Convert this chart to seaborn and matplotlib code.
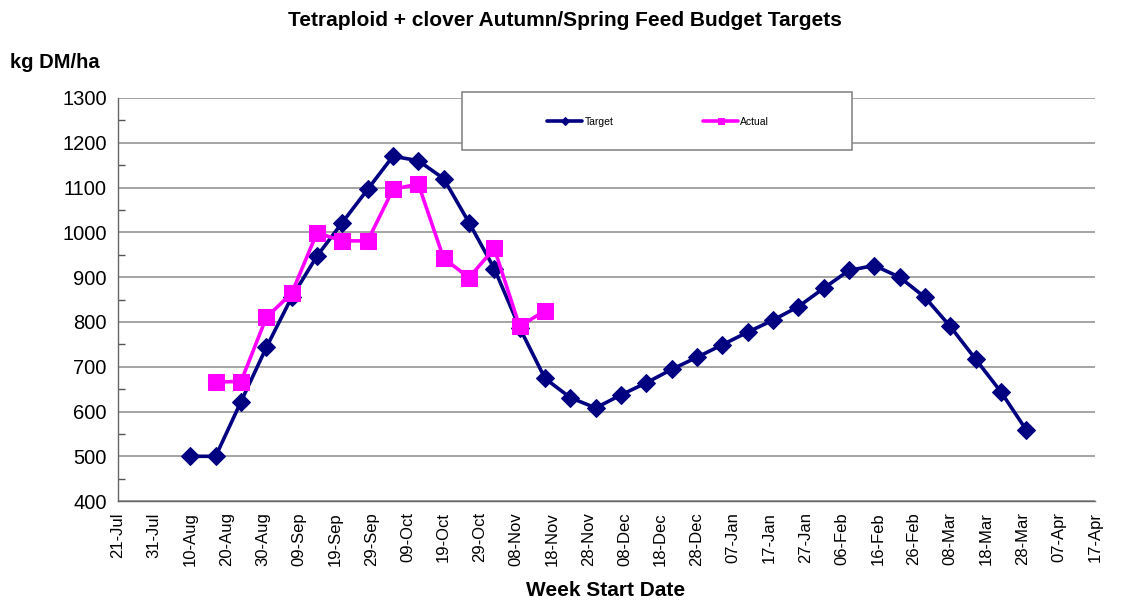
import matplotlib
matplotlib.use("Agg")
import matplotlib.pyplot as plt
import matplotlib.dates as mdates
from matplotlib.patches import Rectangle
from matplotlib.ticker import MultipleLocator
import seaborn as sns
import pandas as pd

# Week start dates (weekly, Aug 2010 - Mar 2011)
target_weeks = [
    "2010-08-10", "2010-08-17", "2010-08-24", "2010-08-31", "2010-09-07",
    "2010-09-14", "2010-09-21", "2010-09-28", "2010-10-05", "2010-10-12",
    "2010-10-19", "2010-10-26", "2010-11-02", "2010-11-09", "2010-11-16",
    "2010-11-23", "2010-11-30", "2010-12-07", "2010-12-14", "2010-12-21",
    "2010-12-28", "2011-01-04", "2011-01-11", "2011-01-18", "2011-01-25",
    "2011-02-01", "2011-02-08", "2011-02-15", "2011-02-22", "2011-03-01",
    "2011-03-08", "2011-03-15", "2011-03-22", "2011-03-29",
]
target_values = [
    500, 500, 622, 743, 855, 947, 1022, 1096, 1170, 1160,
    1120, 1022, 919, 787, 674, 631, 608, 637, 664, 694,
    721, 749, 777, 804, 834, 875, 915, 926, 900, 855,
    790, 717, 644, 559,
]

actual_weeks = [
    "2010-08-17", "2010-08-24", "2010-08-31", "2010-09-07", "2010-09-14",
    "2010-09-21", "2010-09-28", "2010-10-05", "2010-10-12", "2010-10-19",
    "2010-10-26", "2010-11-02", "2010-11-09", "2010-11-16",
]
actual_values = [666, 667, 810, 864, 999, 981, 981, 1096, 1108, 942, 899, 964, 790, 825]

NAVY = "#000080"
MAGENTA = "#FF00FF"
GRID = "#8c8c8c"


def main():
    sns.set_style("white")
    plt.rcParams["font.family"] = ["Liberation Sans", "DejaVu Sans"]
    for key in ("text.color", "axes.labelcolor", "xtick.labelcolor", "ytick.labelcolor"):
        plt.rcParams[key] = "black"

    target = pd.DataFrame({"date": pd.to_datetime(target_weeks), "kg": target_values})
    actual = pd.DataFrame({"date": pd.to_datetime(actual_weeks), "kg": actual_values})

    fig = plt.figure(figsize=(11.3, 6.03), dpi=100)
    ax = fig.add_axes([0.1044, 0.169, 0.8646, 0.6685])

    sns.lineplot(data=target, x="date", y="kg", ax=ax, color=NAVY, linewidth=2.6,
                 marker="D", markersize=9, markeredgecolor=NAVY, label="Target", zorder=3)
    sns.lineplot(data=actual, x="date", y="kg", ax=ax, color=MAGENTA, linewidth=2.6,
                 marker="s", markersize=11, markeredgecolor=MAGENTA, label="Actual", zorder=4)

    # axes
    ax.set_xlim(pd.Timestamp("2010-07-21"), pd.Timestamp("2011-04-17"))
    ax.set_ylim(400, 1300)
    ax.yaxis.set_major_locator(MultipleLocator(100))
    ax.yaxis.set_minor_locator(MultipleLocator(50))
    ax.set_xticks(pd.date_range("2010-07-21", "2011-04-17", freq="10D"))
    ax.xaxis.set_major_formatter(mdates.DateFormatter("%d-%b"))
    ax.tick_params(axis="x", which="major", direction="out", length=5, width=1,
                   color="#555555", labelcolor="black", labelsize=12,
                   labelrotation=90, pad=3)
    ax.tick_params(axis="y", which="major", direction="out", length=5, width=1,
                   color="#555555", labelcolor="black", labelsize=14.5, pad=3)
    ax.tick_params(axis="y", which="minor", direction="in", length=5, width=1,
                   color="#555555", left=True)
    ax.grid(axis="y", color=GRID, linewidth=1.1)
    ax.set_axisbelow(True)
    for side in ("top", "right"):
        ax.spines[side].set_visible(False)
    for side in ("left", "bottom"):
        ax.spines[side].set_color("#666666")
        ax.spines[side].set_linewidth(1)

    ax.set_xlabel("")
    ax.set_ylabel("")

    # legend box
    box = Rectangle((462 / 1130, 1 - 150 / 603), 390 / 1130, 58 / 603,
                    transform=fig.transFigure, facecolor="white",
                    edgecolor="#888888", linewidth=1.2, zorder=5, clip_on=False)
    ax.add_patch(box)
    leg = ax.legend(loc="center", bbox_to_anchor=(658 / 1130, 1 - 122 / 603),
                    bbox_transform=fig.transFigure, ncol=2, frameon=False,
                    fontsize=7.5, handlelength=3.4, handletextpad=0.2,
                    columnspacing=8.6)
    leg.set_zorder(6)
    for h in leg.legend_handles:
        h.set_markersize(4)

    # texts
    fig.text(0.5, 1 - 20 / 603, "Tetraploid + clover Autumn/Spring Feed Budget Targets",
             ha="center", va="center", fontsize=15, fontweight="bold")
    fig.text(10 / 1130, 1 - 62 / 603, "kg DM/ha", ha="left", va="center",
             fontsize=14.5, fontweight="bold")
    fig.text(606 / 1130, 1 - 591 / 603, "Week Start Date", ha="center", va="center",
             fontsize=15, fontweight="bold")

    fig.savefig("out.png", dpi=100)
    plt.close(fig)


if __name__ == "__main__":
    main()
